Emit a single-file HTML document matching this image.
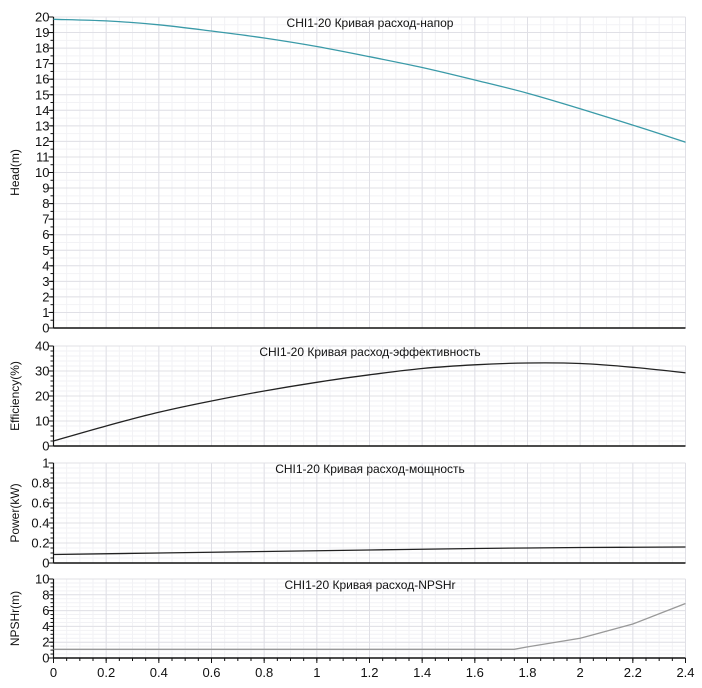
<!DOCTYPE html>
<html><head><meta charset="utf-8"><style>
body{margin:0;background:#fff;}
svg text{font-family:"Liberation Sans","DejaVu Sans",sans-serif;fill:#111;}
</style></head><body>
<svg id="c" width="702" height="683" xmlns="http://www.w3.org/2000/svg"></svg>
<script>
const xTicks=[0,0.2,0.4,0.6,0.8,1,1.2,1.4,1.6,1.8,2,2.2,2.4];
const xTickLabels=["0","0.2","0.4","0.6","0.8","1","1.2","1.4","1.6","1.8","2","2.2","2.4"];
const headQ=[0,0.2,0.4,0.6,0.8,1,1.2,1.4,1.6,1.8,2,2.2,2.4];
const headH=[19.85,19.75,19.5,19.1,18.65,18.1,17.45,16.75,15.95,15.1,14.1,13.05,11.95];
const effQ=[0,0.2,0.4,0.6,0.8,1,1.2,1.4,1.6,1.8,2,2.2,2.4];
const effV=[2,8,13.5,18,22,25.5,28.5,31,32.5,33.2,33,31.5,29.3];
const powQ=[0,0.4,0.8,1.2,1.6,2,2.4];
const powV=[0.085,0.1,0.115,0.13,0.145,0.155,0.16];
const npQ=[0,0.4,0.8,1.2,1.6,1.75,1.8,2,2.2,2.4];
const npV=[1.1,1.1,1.1,1.1,1.1,1.1,1.4,2.5,4.3,6.9];

const svg=document.getElementById('c');
const NS='http://www.w3.org/2000/svg';
const X0=53.5,X1=685.5,XMAX=2.4;
function sx(v){return X0+(X1-X0)*v/XMAX;}
function mk(t,a){const e=document.createElementNS(NS,t);for(const k in a)e.setAttribute(k,a[k]);svg.appendChild(e);return e;}
function smooth(pts){let d='M'+pts[0][0].toFixed(1)+' '+pts[0][1].toFixed(1);
 for(let i=0;i<pts.length-1;i++){const p0=pts[Math.max(i-1,0)],p1=pts[i],p2=pts[i+1],p3=pts[Math.min(i+2,pts.length-1)];
  const c1=[p1[0]+(p2[0]-p0[0])/6,p1[1]+(p2[1]-p0[1])/6],c2=[p2[0]-(p3[0]-p1[0])/6,p2[1]-(p3[1]-p1[1])/6];
  d+=` C${c1[0].toFixed(1)} ${c1[1].toFixed(1)} ${c2[0].toFixed(1)} ${c2[1].toFixed(1)} ${p2[0].toFixed(1)} ${p2[1].toFixed(1)}`;}
 return d;}

const panels=[
 {name:'head',top:17,bot:328,max:20,step:1,minor:0.5,title:'CHI1-20 Кривая расход-напор',ylab:'Head(m)',q:headQ,v:headH,col:'#3a9aa8',sm:true},
 {name:'efficiency',top:346,bot:446,max:40,step:10,minor:2,title:'CHI1-20 Кривая расход-эффективность',ylab:'Efficiency(%)',q:effQ,v:effV,col:'#222',sm:true},
 {name:'power',top:463,bot:563,max:1,step:0.2,minor:0.05,title:'CHI1-20 Кривая расход-мощность',ylab:'Power(kW)',q:powQ,v:powV,col:'#222',sm:true},
 {name:'npshr',top:579,bot:658,max:10,step:2,minor:0.5,title:'CHI1-20 Кривая расход-NPSHr',ylab:'NPSHr(m)',q:npQ,v:npV,col:'#999',sm:false}
];
panels.forEach(p=>{
 const sy=v=>p.bot-(p.bot-p.top)*v/p.max;
 for(let x=0;x<=XMAX+1e-9;x+=0.05){let l=mk('line',{x1:sx(x),x2:sx(x),y1:p.top,y2:p.bot,stroke:'#f2f2f5','stroke-width':1});
  }
 for(let y=0;y<=p.max+1e-9;y+=p.minor){let l=mk('line',{x1:X0,x2:X1,y1:sy(y),y2:sy(y),stroke:'#f2f2f5','stroke-width':1});
  }
 xTicks.forEach(x=>{let l=mk('line',{x1:sx(x),x2:sx(x),y1:p.top,y2:p.bot,stroke:'#e0e0e6','stroke-width':1});
  });
 const n=Math.round(p.max/p.step);
 for(let i=0;i<=n;i++){const v=i*p.step;const y=sy(v);
  let l=mk('line',{x1:X0,x2:X1,y1:y,y2:y,stroke:'#e0e0e6','stroke-width':1});
  
  let tk=mk('line',{x1:X0-5,x2:X0,y1:y,y2:y,stroke:'#111'});
  
  let t=mk('text',{x:X0-4,y:y+4.5,'text-anchor':'end','font-size':13});
  t.textContent=(Math.round(v*10)/10).toString();
  }
 for(let y=0;y<=p.max+1e-9;y+=p.minor){let tk=mk('line',{x1:X0-3,x2:X0,y1:sy(y),y2:sy(y),stroke:'#111'});
  }
 let ax=mk('line',{x1:X0,x2:X0,y1:p.top,y2:p.bot,stroke:'#111','stroke-width':1.2});
 
 let bx=mk('line',{x1:X0,x2:X1,y1:p.bot,y2:p.bot,stroke:'#111','stroke-width':1.5});
 
 const cy=(p.top+p.bot)/2;
 let yl=mk('text',{x:19,y:cy,'text-anchor':'middle','font-size':12,transform:`rotate(-90 19 ${cy})`});
 yl.textContent=p.ylab;
 let ti=mk('text',{x:370,y:p.top+10,'text-anchor':'middle','font-size':12});
 ti.textContent=p.title;
 const pts=p.q.map((q,i)=>[sx(q),sy(p.v[i])]);
 let d=p.sm?smooth(pts):pts.map((pt,i)=>(i?'L':'M')+pt[0].toFixed(1)+' '+pt[1].toFixed(1)).join(' ');
 let ln=mk('path',{d:d,fill:'none',stroke:p.col,'stroke-width':1.3});
 
});
const XB=658;
for(let x=0;x<=XMAX+1e-9;x+=0.05){let tk=mk('line',{x1:sx(x),x2:sx(x),y1:XB,y2:XB+3,stroke:'#111'});
 }
xTicks.forEach((x,i)=>{let tk=mk('line',{x1:sx(x),x2:sx(x),y1:XB,y2:XB+5,stroke:'#111'});
 
 let t=mk('text',{x:sx(x),y:677,'text-anchor':'middle','font-size':13});t.textContent=xTickLabels[i];
 });
</script>
</body></html>
